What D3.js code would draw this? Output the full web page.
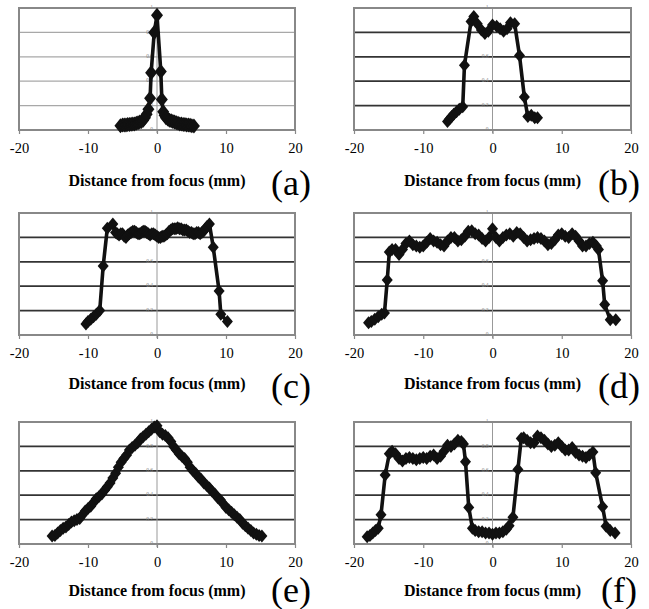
<!DOCTYPE html>
<html>
<head>
<meta charset="utf-8">
<script src="https://cdn.jsdelivr.net/npm/d3@7"></script>
<style>
  html, body { margin: 0; padding: 0; background: #fff; }
  svg { display: block; }
</style>
</head>
<body>
<svg id="chart" width="649" height="609"></svg>
<script>
// ---------- DATA ----------
const xTicks = [-20, -10, 0, 10, 20];
const yTicks = [0, 0.2, 0.4, 0.6, 0.8, 1];
const yTickLabels = ["0", "0.2", "0.4", "0.6", "0.8", "1"];
const panelLabels = ["(a)", "(b)", "(c)", "(d)", "(e)", "(f)"];
const axisTitle = "Distance from focus (mm)";

const profileA = [
  [-5.3,0.035],[-5.0,0.04],[-4.75,0.04],[-4.5,0.042],[-4.25,0.045],[-4.0,0.045],
  [-3.75,0.048],[-3.5,0.05],[-3.25,0.05],[-3.0,0.055],[-2.75,0.06],[-2.5,0.065],
  [-2.25,0.07],[-2.0,0.08],[-1.75,0.1],[-1.5,0.13],[-1.25,0.17],[-1.0,0.26],
  [-0.85,0.47],[-0.4,0.80],[0.0,0.94],[0.55,0.48],[0.7,0.25],[0.9,0.15],
  [1.1,0.12],[1.3,0.10],[1.55,0.09],[1.8,0.08],[2.05,0.075],[2.3,0.07],
  [2.55,0.065],[2.8,0.06],[3.05,0.055],[3.3,0.05],[3.55,0.05],[3.8,0.045],
  [4.05,0.045],[4.3,0.04],[4.55,0.04],[4.8,0.038],[5.05,0.035],[5.35,0.033]
];
const profileB = [
  [-6.5,0.07],[-6.2,0.09],[-5.9,0.11],[-5.6,0.13],[-5.2,0.15],[-4.8,0.17],
  [-4.3,0.19],[-4.05,0.53],[-3.1,0.89],[-2.7,0.93],[-2.2,0.87],[-1.6,0.82],
  [-1.1,0.79],[-0.6,0.81],[0.0,0.86],[0.6,0.85],[1.1,0.83],[1.6,0.81],
  [2.1,0.83],[2.6,0.88],[3.2,0.87],[3.9,0.61],[4.6,0.27],[5.1,0.11],
  [5.6,0.12],[6.1,0.10],[6.5,0.10]
];
const profileC = [
  [-10.3,0.09],[-10.0,0.11],[-9.6,0.13],[-9.2,0.15],[-8.8,0.17],[-8.3,0.20],
  [-7.8,0.565],[-7.2,0.875],[-6.4,0.91],[-6.0,0.84],[-5.75,0.83],[-5.5,0.82],
  [-5.25,0.83],[-5.0,0.83],[-4.75,0.81],[-4.5,0.80],[-4.25,0.82],[-4.0,0.83],
  [-3.75,0.84],[-3.5,0.85],[-3.25,0.85],[-3.0,0.84],[-2.75,0.83],[-2.5,0.83],
  [-2.25,0.84],[-2.0,0.85],[-1.75,0.85],[-1.5,0.84],[-1.25,0.83],[-1.0,0.82],
  [-0.75,0.83],[-0.5,0.83],[-0.25,0.82],[0.0,0.81],[0.25,0.80],[0.5,0.80],
  [0.75,0.81],[1.0,0.81],[1.25,0.82],[1.5,0.83],[1.75,0.85],[2.0,0.86],
  [2.25,0.87],[2.5,0.87],[2.75,0.87],[3.0,0.88],[3.25,0.87],[3.5,0.87],
  [3.75,0.86],[4.0,0.86],[4.25,0.86],[4.5,0.85],[4.75,0.84],[5.0,0.84],
  [5.25,0.83],[5.5,0.83],[5.75,0.84],[6.0,0.84],[6.25,0.83],[6.5,0.84],
  [6.75,0.85],[7.0,0.87],[7.25,0.89],[7.6,0.91],[8.15,0.72],[9.0,0.36],
  [9.25,0.17],[10.2,0.11]
];
const profileD = [
  [-17.9,0.10],[-17.5,0.11],[-17.0,0.13],[-16.5,0.15],[-16.0,0.17],[-15.6,0.18],
  [-15.2,0.45],[-14.9,0.68],[-14.5,0.70],[-14.0,0.70],[-13.5,0.66],[-13.0,0.70],
  [-12.5,0.75],[-12.0,0.77],[-11.5,0.74],[-11.0,0.73],[-10.5,0.72],[-10.0,0.73],
  [-9.5,0.76],[-9.0,0.79],[-8.5,0.77],[-8.0,0.76],[-7.5,0.74],[-7.0,0.73],
  [-6.5,0.77],[-6.0,0.80],[-5.5,0.80],[-5.0,0.77],[-4.5,0.78],[-4.0,0.81],
  [-3.5,0.85],[-3.0,0.855],[-2.5,0.83],[-2.0,0.82],[-1.5,0.79],[-1.0,0.77],
  [-0.5,0.80],[0.0,0.87],[0.5,0.80],[1.0,0.77],[1.5,0.80],[2.0,0.82],
  [2.5,0.83],[3.0,0.81],[3.5,0.84],[4.0,0.83],[4.5,0.80],[5.0,0.77],
  [5.5,0.78],[6.0,0.79],[6.5,0.80],[7.0,0.79],[7.5,0.77],[8.0,0.74],
  [8.5,0.75],[9.0,0.78],[9.5,0.82],[10.0,0.83],[10.5,0.81],[11.0,0.80],
  [11.5,0.83],[12.0,0.81],[12.5,0.77],[13.0,0.73],[13.5,0.73],[14.0,0.75],
  [14.5,0.76],[15.0,0.73],[15.3,0.70],[15.9,0.445],[16.2,0.25],[17.0,0.125],
  [17.8,0.125]
];
const profileE = [
  [-15.2,0.065],[-14.8,0.07],[-14.4,0.09],[-14.0,0.11],[-13.6,0.13],[-13.2,0.14],
  [-12.8,0.16],[-12.4,0.18],[-12.0,0.19],[-11.6,0.20],[-11.2,0.21],[-10.8,0.24],
  [-10.4,0.27],[-10.0,0.29],[-9.6,0.31],[-9.2,0.34],[-8.8,0.37],[-8.4,0.39],
  [-8.0,0.41],[-7.6,0.44],[-7.2,0.47],[-6.8,0.50],[-6.4,0.54],[-6.0,0.58],
  [-5.6,0.63],[-5.2,0.67],[-4.8,0.70],[-4.4,0.73],[-4.0,0.77],[-3.6,0.79],
  [-3.2,0.81],[-2.8,0.83],[-2.4,0.86],[-2.0,0.88],[-1.6,0.90],[-1.2,0.92],
  [-0.8,0.94],[-0.4,0.96],[0.0,0.97],[0.4,0.92],[0.8,0.90],[1.2,0.89],
  [1.6,0.87],[2.0,0.84],[2.4,0.80],[2.8,0.77],[3.2,0.74],[3.6,0.72],
  [4.0,0.70],[4.4,0.67],[4.8,0.63],[5.2,0.60],[5.6,0.58],[6.0,0.55],
  [6.4,0.53],[6.8,0.50],[7.2,0.48],[7.6,0.46],[8.0,0.43],[8.4,0.41],
  [8.8,0.38],[9.2,0.36],[9.6,0.33],[10.0,0.30],[10.4,0.28],[10.8,0.26],
  [11.2,0.24],[11.6,0.22],[12.0,0.20],[12.4,0.17],[12.8,0.15],[13.2,0.13],
  [13.6,0.11],[14.0,0.09],[14.4,0.08],[14.8,0.07],[15.2,0.065]
];
const profileF = [
  [-18.1,0.06],[-17.7,0.07],[-17.3,0.09],[-16.9,0.11],[-16.5,0.13],[-16.1,0.24],
  [-15.5,0.565],[-14.9,0.74],[-14.5,0.76],[-14.0,0.74],[-13.5,0.70],[-13.0,0.68],
  [-12.5,0.70],[-12.0,0.71],[-11.5,0.70],[-11.0,0.69],[-10.5,0.70],[-10.0,0.71],
  [-9.5,0.70],[-9.0,0.72],[-8.5,0.73],[-8.0,0.70],[-7.5,0.72],[-7.0,0.76],
  [-6.5,0.81],[-6.0,0.80],[-5.5,0.82],[-5.0,0.85],[-4.5,0.84],[-4.2,0.82],
  [-3.9,0.675],[-3.43,0.30],[-2.9,0.13],[-2.5,0.11],[-2.0,0.10],[-1.5,0.10],
  [-1.0,0.09],[-0.5,0.09],[0.0,0.08],[0.5,0.09],[1.0,0.09],[1.5,0.10],
  [2.0,0.12],[2.4,0.15],[2.95,0.22],[3.67,0.61],[4.15,0.865],[4.5,0.87],
  [5.0,0.85],[5.5,0.83],[6.0,0.83],[6.5,0.885],[7.0,0.87],[7.5,0.85],
  [8.0,0.82],[8.5,0.80],[9.0,0.81],[9.5,0.83],[10.0,0.80],[10.5,0.77],
  [11.0,0.77],[11.5,0.79],[12.0,0.75],[12.5,0.73],[13.0,0.72],[13.5,0.71],
  [14.0,0.73],[14.5,0.755],[14.9,0.585],[15.9,0.305],[16.4,0.145],[17.0,0.11],
  [17.7,0.09]
];
const profiles = [profileA, profileB, profileC, profileD, profileE, profileF];

// ---------- LAYOUT ----------
const FONT = '"Liberation Serif"';
const svg = d3.select("#chart");
const colX = [19, 354];
const colW = [276, 277];
const labelDx = [-4, -12];
const rowY = [8, 213, 422];
const plotH = 122;
const titleOff = [56, 54, 52];
const labelOff = [65, 63, 58];

profiles.forEach((data, i) => {
  const col = i % 2, row = Math.floor(i / 2);
  const x0 = colX[col], w = colW[col], y0 = rowY[row];
  const x = d3.scaleLinear().domain([-20, 20]).range([x0, x0 + w]);
  const y = d3.scaleLinear().domain([0, 1]).range([y0 + plotH, y0]);
  const g = svg.append("g");
  const light = (i === 0);

  // gridlines
  g.selectAll("line.grid").data(yTicks.slice(1, -1)).join("line")
    .attr("x1", x0).attr("x2", x0 + w)
    .attr("y1", d => y(d)).attr("y2", d => y(d))
    .attr("stroke", light ? "#a8a8a8" : "#333")
    .attr("stroke-width", light ? 1.2 : 1.7);

  // vertical axis at x=0
  g.append("line")
    .attr("x1", x(0)).attr("x2", x(0))
    .attr("y1", y0).attr("y2", y0 + plotH + 3)
    .attr("stroke", "#999").attr("stroke-width", 1);

  // box
  g.append("rect")
    .attr("x", x0).attr("y", y0).attr("width", w).attr("height", plotH)
    .attr("fill", "none").attr("stroke", "#888").attr("stroke-width", 2);

  // x axis ticks + labels
  const xAxis = d3.axisBottom(x).tickValues(xTicks).tickSize(4).tickPadding(9)
    .tickFormat(d => String(d));
  const ax = g.append("g").attr("transform", `translate(0,${y0 + plotH})`).call(xAxis);
  ax.select(".domain").remove();
  ax.selectAll(".tick line").attr("stroke", "#888").attr("stroke-width", 1.2);
  ax.selectAll(".tick text")
    .style("font-family", FONT).style("font-size", "14.5px").attr("fill", "#000");

  // tiny y labels next to the x=0 axis
  g.selectAll("text.ylab").data(yTicks).join("text")
    .attr("x", x(0) - 4).attr("y", d => y(d))
    .attr("text-anchor", "end").attr("dominant-baseline", "middle")
    .style("font-family", FONT).style("font-size", "5.5px")
    .attr("fill", "#888")
    .text((d, k) => yTickLabels[k]);

  // line
  const line = d3.line().x(d => x(d[0])).y(d => y(d[1]));
  g.append("path").datum(data).attr("d", line)
    .attr("fill", "none").attr("stroke", "#111").attr("stroke-width", 3.6)
    .attr("stroke-linejoin", "round");

  // diamond markers
  const hw = light ? 6 : 5.5, hh = light ? 7.5 : 6.5;
  g.selectAll("path.mk").data(data).join("path")
    .attr("d", `M0,${-hh}L${hw},0L0,${hh}L${-hw},0Z`)
    .attr("transform", d => `translate(${x(d[0])},${y(d[1])})`)
    .attr("fill", "#111");

  // axis title
  g.append("text")
    .attr("x", x(0)).attr("y", y0 + plotH + titleOff[row])
    .attr("text-anchor", "middle")
    .style("font-family", FONT)
    .style("font-weight", "bold").style("font-size", "16px").attr("fill", "#000")
    .text(axisTitle);

  // panel label
  g.append("text")
    .attr("x", x0 + w + labelDx[col]).attr("y", y0 + plotH + labelOff[row])
    .attr("text-anchor", "middle")
    .style("font-family", FONT)
    .style("font-size", "36px").attr("fill", "#000")
    .text(panelLabels[i]);
});
</script>
</body>
</html>
